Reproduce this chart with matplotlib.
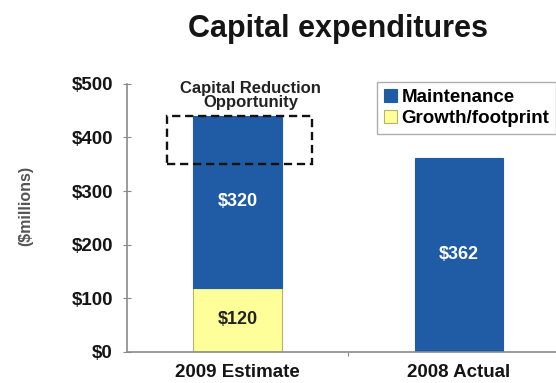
import matplotlib
matplotlib.use("Agg")
import matplotlib.pyplot as plt
from matplotlib.patches import Rectangle

plt.rcParams["font.family"] = ["Liberation Sans", "DejaVu Sans"]
plt.rcParams["font.weight"] = "bold"

categories = ["2009 Estimate", "2008 Actual"]
growth = [120, 0]
maintenance = [320, 362]
reduction_range = (350, 440)
yticks = [0, 100, 200, 300, 400, 500]

blue = "#1f5ca5"
yellow = "#ffff99"
grey = "#8a8a8a"
ink = "#151515"


def money(v):
    return f"${v}"


fig = plt.figure(figsize=(5.56, 3.83), dpi=100)
ax = fig.add_axes([0.228, 0.081, 0.797, 0.70])

x = list(range(len(categories)))
width = 0.4
ax.bar(x, growth, width, color=yellow, edgecolor="#b5b56a", linewidth=0.8,
       label="Growth/footprint")
ax.bar(x, maintenance, width, bottom=growth, color=blue, edgecolor=blue,
       linewidth=0.8, label="Maintenance")

for i in x:
    if growth[i]:
        ax.text(i, growth[i] / 2, money(growth[i]), ha="center", va="center",
                fontsize=13, color="#222222", fontweight="bold")
    ax.text(i, growth[i] + maintenance[i] / 2, money(maintenance[i]),
            ha="center", va="center", fontsize=13, color="white",
            fontweight="bold")

# dashed box marking the potential cut on the 2009 estimate
lo, hi = reduction_range
ax.add_patch(Rectangle((-0.317, lo), 0.652, hi - lo, fill=False,
                       edgecolor="#111111", linestyle=(0, (3.5, 2)),
                       linewidth=1.7, zorder=5, clip_on=False))
ax.text(0.06, hi + 38, "Capital Reduction\nOpportunity", ha="center",
        va="center", fontsize=12, fontweight="bold", color="#222222",
        linespacing=0.95)

ax.set_xlim(-0.5, 1.5)
ax.set_ylim(0, 500)
ax.set_yticks(yticks)
ax.set_yticklabels([money(v) for v in yticks], fontsize=13.5,
                   fontweight="bold", color=ink)
ax.set_xticks([0.5])
ax.set_xticklabels([""])
ax.set_xticks(x, minor=True)
ax.set_xticklabels(categories, minor=True, fontsize=13.5, fontweight="bold",
                   color=ink)
ax.tick_params(axis="x", which="minor", length=0, pad=9)
ax.tick_params(axis="x", which="major", length=3, color=grey, direction="out")
ax.tick_params(axis="y", length=6, color=grey, direction="inout", pad=7)

for side in ("top", "right"):
    ax.spines[side].set_visible(False)
for side in ("left", "bottom"):
    ax.spines[side].set_color(grey)
    ax.spines[side].set_linewidth(1.2)

fig.text(26 / 556, 1 - 206 / 383, "($millions)", rotation=90, ha="center",
         va="center", fontsize=11.5, fontweight="bold", color="#555555")

handles, labels = ax.get_legend_handles_labels()
leg = fig.legend(handles[::-1], labels[::-1], loc="upper left",
                 bbox_to_anchor=(377 / 556, 1 - 82 / 383), fontsize=13.5,
                 frameon=True, fancybox=False, edgecolor="#999999",
                 handlelength=0.7, handleheight=0.7, handletextpad=0.27,
                 borderpad=0.35, labelspacing=0.22, borderaxespad=0)
leg.get_frame().set_linewidth(1.0)
for t in leg.get_texts():
    t.set_fontweight("bold")

fig.text(338 / 556, 1 - 37 / 383, "Capital expenditures", ha="center",
         va="baseline", fontsize=22, fontweight="bold", color=ink)

fig.savefig("out.png", dpi=100)
